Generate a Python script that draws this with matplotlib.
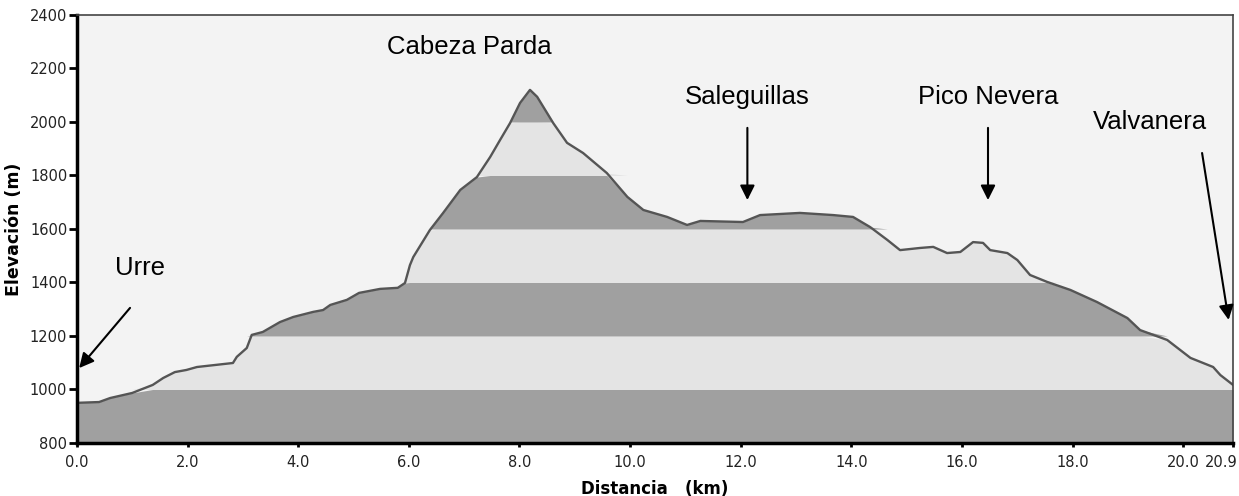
import matplotlib.pyplot as plt
import matplotlib.transforms as mtransforms
import numpy as np

# perfil de elevación (km, m)
dist = [0.0, 0.4, 0.6, 1.0, 1.37, 1.56, 1.77, 1.98, 2.17, 2.82, 2.89, 3.07, 3.16, 3.36,
        3.67, 3.91, 4.27, 4.45, 4.58, 4.88, 5.1, 5.48, 5.8, 5.93, 6.02, 6.08, 6.38,
        6.62, 6.93, 7.23, 7.47, 7.65, 7.83, 8.01, 8.19, 8.32, 8.61, 8.86, 9.15, 9.58,
        9.95, 10.24, 10.67, 11.03, 11.27, 12.04, 12.35, 13.07, 13.67, 14.03, 14.34,
        14.65, 14.88, 15.24, 15.48, 15.73, 15.97, 16.2, 16.38, 16.51, 16.82, 17.0,
        17.23, 17.54, 17.96, 18.44, 18.99, 19.22, 19.71, 20.13, 20.54, 20.67, 20.9]
elev = [950, 953, 968, 987, 1017, 1043, 1065, 1073, 1084, 1099, 1122, 1155, 1204, 1215,
        1252, 1271, 1290, 1297, 1316, 1335, 1361, 1376, 1380, 1398, 1465, 1495, 1596,
        1660, 1746, 1794, 1869, 1933, 1996, 2071, 2120, 2094, 1996, 1922, 1884, 1809,
        1720, 1671, 1645, 1615, 1630, 1626, 1652, 1660, 1652, 1645, 1607,
        1559, 1521, 1529, 1533, 1510, 1514, 1551, 1548, 1521, 1510, 1484,
        1428, 1402, 1372, 1327, 1267, 1222, 1185, 1118, 1084, 1054, 1017]

xticks = [0, 2, 4, 6, 8, 10, 12, 14, 16, 18, 20, 20.9]
yticks = list(range(800, 2401, 200))

# nombre, posición del texto, cola y punta de la flecha
lugares = [
    ("Urre", (1.14, 1454), (0.96, 1305), (0.04, 1080)),
    ("Cabeza Parda", (7.1, 2280), None, None),
    ("Saleguillas", (12.12, 2093), (12.12, 1978), (12.12, 1708)),
    ("Pico Nevera", (16.47, 2093), (16.47, 1978), (16.47, 1708)),
    ("Valvanera", (19.39, 2000), (20.34, 1884), (20.82, 1260)),
]

x = np.array(dist)
y = np.array(elev)

fig = plt.figure(figsize=(12.39, 4.96), dpi=100)
ax = fig.add_axes([0.0621, 0.1069, 0.9331, 0.8629])
ax.set_facecolor('#f3f3f3')

# bandas alternas de 200 m
for i, lo in enumerate(range(800, 2400, 200)):
    color = '#a0a0a0' if i % 2 == 0 else '#e4e4e4'
    ax.fill_between(x, lo, np.clip(y, lo, lo + 200), color=color, linewidth=0)
ax.plot(x, y, color='#555555', linewidth=1.7)

for nombre, txt, cola, punta in lugares:
    ax.text(txt[0], txt[1], nombre, ha='center', va='center', fontsize=18.5,
            family='Liberation Sans', color='black')
    if cola is not None:
        ax.annotate('', xy=punta, xytext=cola,
                    arrowprops=dict(arrowstyle='-|>', color='black', lw=1.5,
                                    mutation_scale=22, shrinkA=0, shrinkB=0))

ax.set_xlim(0, 20.9)
ax.set_ylim(800, 2400)
ax.set_xticks(xticks)
ax.set_xticklabels(['%.1f' % v for v in xticks])
ax.set_yticks(yticks)
ax.tick_params(direction='out', width=2, labelsize=10.5, labelcolor='#222222')
ax.tick_params(axis='x', length=3, pad=6)
ax.tick_params(axis='y', length=6, pad=1)

# la última etiqueta (20.9) va pegada al borde derecho
ultima = ax.get_xticklabels()[-1]
ultima.set_horizontalalignment('right')
ultima.set_transform(ultima.get_transform() +
                     mtransforms.ScaledTranslation(5 / 100, 0, fig.dpi_scale_trans))

ax.set_xlabel('Distancia   (km)', fontsize=12, fontweight='bold', labelpad=7)
ax.set_ylabel('Elevación (m)', fontsize=12.5, fontweight='bold', labelpad=5)

for lado in ['left', 'bottom']:
    ax.spines[lado].set_linewidth(2.5)
    ax.spines[lado].set_color('black')
for lado in ['top', 'right']:
    ax.spines[lado].set_linewidth(1.2)
    ax.spines[lado].set_color('#444444')

fig.savefig('out.png', dpi=100)
